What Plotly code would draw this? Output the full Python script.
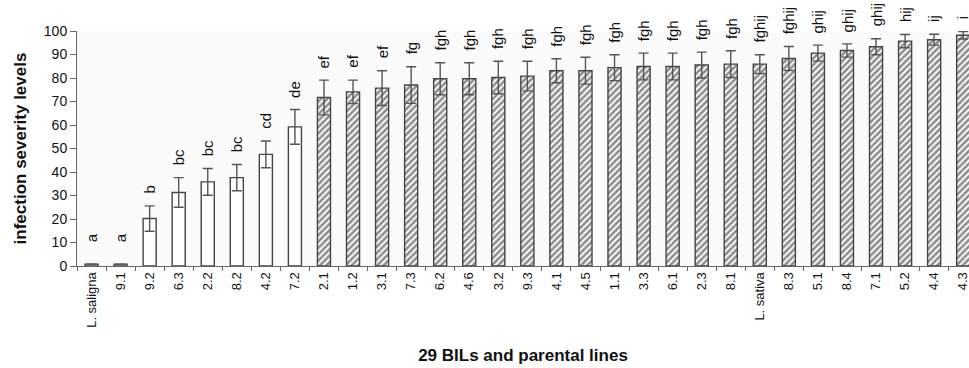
import plotly.graph_objects as go

# Backcross inbred lines and the two parents, ordered by mean infection severity
lines = ["L. saligna", "9.1", "9.2", "6.3", "2.2", "8.2", "4.2", "7.2", "2.1", "1.2",
         "3.1", "7.3", "6.2", "4.6", "3.2", "9.3", "4.1", "4.5", "1.1", "3.3",
         "6.1", "2.3", "8.1", "L. sativa", "8.3", "5.1", "8.4", "7.1", "5.2", "4.4", "4.3"]
severity = [0.8, 0.8, 20.2, 31.3, 35.8, 37.6, 47.5, 59.2, 71.7, 74.1,
            75.7, 77.0, 79.7, 79.7, 80.2, 80.8, 83.1, 83.1, 84.4, 84.9,
            84.9, 85.5, 85.9, 85.9, 88.3, 90.6, 91.7, 93.3, 95.7, 96.3, 98.2]
std_err = [0.0, 0.0, 5.4, 6.3, 5.7, 5.6, 5.7, 7.4, 7.4, 5.0,
           7.4, 7.8, 6.8, 6.8, 6.9, 6.3, 5.1, 5.7, 5.5, 5.7,
           5.7, 5.5, 5.7, 4.0, 5.1, 3.4, 2.8, 3.4, 2.8, 2.3, 1.6]
groups = ["a", "a", "b", "bc", "bc", "bc", "cd", "de", "ef", "ef",
          "ef", "fg", "fgh", "fgh", "fgh", "fgh", "fgh", "fgh", "fgh", "fgh",
          "fgh", "fgh", "fgh", "fghij", "fghij", "ghij", "ghij", "ghij", "hij", "ij", "i"]

FONT = "Liberation Sans, Arial, sans-serif"
OUTLINE = "#444444"

# Lines below the 65 % severity level are drawn as open bars, the rest hatched
low = [i for i, v in enumerate(severity) if v < 65]
high = [i for i, v in enumerate(severity) if v >= 65]

err_style = dict(type="data", color="#555555", thickness=1.4, width=5)

fig = go.Figure()
fig.add_trace(go.Bar(
    x=[lines[i] for i in low], y=[severity[i] for i in low],
    error_y=dict(array=[std_err[i] for i in low], **err_style),
    marker=dict(color="white", line=dict(color=OUTLINE, width=1.4)),
    showlegend=False,
))
fig.add_trace(go.Bar(
    x=[lines[i] for i in high], y=[severity[i] for i in high],
    error_y=dict(array=[std_err[i] for i in high], **err_style),
    marker=dict(color="white", line=dict(color=OUTLINE, width=1.4),
                pattern=dict(shape="/", fgcolor="#1e1e1e", bgcolor="white",
                             size=4.5, solidity=0.58)),
    showlegend=False,
))

# Significance letters above each bar (category axis positions by index)
for idx, (v, e, g) in enumerate(zip(severity, std_err, groups)):
    fig.add_annotation(
        x=idx, y=max(v + e, 5), text=g, textangle=-90, showarrow=False,
        xanchor="center", yanchor="bottom", yshift=10,
        font=dict(family=FONT, size=15, color="#111111"),
    )

fig.update_layout(
    width=969, height=368,
    margin=dict(l=77, r=0, t=31, b=102),
    paper_bgcolor="white", plot_bgcolor="#fbfbfb",
    bargap=0.55, barmode="overlay",
    font=dict(family=FONT, color="#111111"),
)
fig.update_xaxes(
    type="category", categoryorder="array", categoryarray=lines,
    range=[-0.5, 30.2], tickson="boundaries", ticks="outside", ticklen=4,
    tickcolor="#666666", tickangle=-90, showline=True, linecolor="#666666",
    showgrid=False, tickfont=dict(size=13, color="#111111"), automargin=False,
    title=dict(text="29 BILs and parental lines", standoff=22,
               font=dict(size=17, weight="bold", color="#111111")),
)
fig.update_yaxes(
    range=[0, 100], dtick=10, ticks="outside", ticklen=6, tickcolor="#666666",
    showline=True, linecolor="#666666", showgrid=False, zeroline=False,
    tickfont=dict(size=14, color="#111111"), automargin=False,
    title=dict(text="infection severity levels", standoff=12,
               font=dict(size=17, weight="bold", color="#111111")),
)

fig.write_html("out.html")
